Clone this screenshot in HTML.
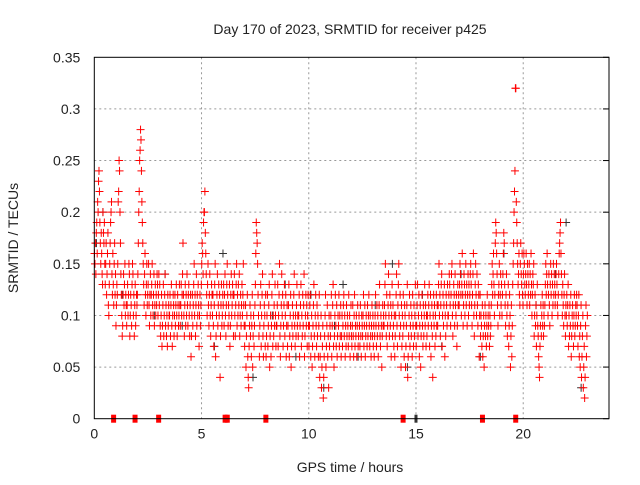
<!DOCTYPE html>
<html><head><meta charset="utf-8"><style>
body{margin:0;background:#fff}
svg text{font-family:"Liberation Sans",sans-serif;fill:#222}
</style></head><body>
<svg id="c" width="640" height="480" xmlns="http://www.w3.org/2000/svg">
<text x="350" y="34" font-size="14" text-anchor="middle">Day 170 of 2023, SRMTID for receiver p425</text>
<text x="350" y="472" font-size="14" text-anchor="middle">GPS time / hours</text>
<text transform="translate(18,238) rotate(-90)" font-size="14" text-anchor="middle">SRMTID / TECUs</text>
<g id="grid"></g><g id="marks"></g>
<rect x="94.3" y="57.3" width="514.7" height="361.4" fill="none" stroke="#000"/>
</svg>
<script>
const xTicks=[0,5,10,15,20];
const yTicks=[0,0.05,0.1,0.15,0.2,0.25,0.3,0.35];
const yTickLabels=["0","0.05","0.1","0.15","0.2","0.25","0.3","0.35"];
const blackPoints=[[0.1,0.17],[0.4,0.2],[1.3,0.12],[2.8,0.1],[3.3,0.14],[4.1,0.09],[5.6,0.07],[6.5,0.12],[7.4,0.04],[8.3,0.1],[9.4,0.06],[10.1,0.12],[10.7,0.03],[11.6,0.13],[12.3,0.06],[13.1,0.11],[13.9,0.15],[14.6,0.05],[15.3,0.12],[16.2,0.07],[17.1,0.14],[18.0,0.06],[19.1,0.16],[20.6,0.11],[21.5,0.14],[22.0,0.19],[22.7,0.03],[6.0,0.16],[8.9,0.13],[11.2,0.09]];
const binStarts=[0,0.5,1,1.5,2,2.5,3,3.5,4,4.5,5,5.5,6,6.5,7,7.5,8,8.5,9,9.5,10,10.5,11,11.5,12,12.5,13,13.5,14,14.5,15,15.5,16,16.5,17,17.5,18,18.5,19,19.5,20,20.5,21,21.5,22,22.5];
const binValues=[
[16,15,17,14,18,19,16,21,20,23,24,22,19,17,15,18,16,14,13,20,18,17,19,15],
[13,15,17,12,14,16,18,11,10,13,15,17,19,20,21,14,12,16,13,11,15,17,12,14],
[9,11,13,12,15,21,22,25,24,20,17,14,12,10,8,9,12,14,11,13,15,10,12,11],
[9,11,13,10,12,15,14,8,10,12,11,9,13,15,14,10,12,8,11,13,9,10,12,11],
[12,14,17,20,22,25,26,28,27,24,21,19,17,15,13,11,14,16,12,10,13,15,11,12],
[13,15,11,9,12,14,10,12,13,15,11,10,12,14,9,11,13,10,12,11,14,13,10,12],
[14,11,13,9,8,10,12,7,9,11,13,8,10,12,14,9,11,8,10,7,12,9,11,10],
[10,12,8,11,13,9,7,10,12,11,8,10,12,9,11,13,10,8,12,11,9,10,13,11],
[9,11,13,10,12,14,17,12,10,8,11,13,9,12,10,14,11,9,12,13,10,8,11,12],
[6,8,10,12,9,11,13,15,10,12,8,11,14,9,12,10,13,11,7,10,12,9,11,13],
[15,17,16,14,19,20,20,22,18,16,14,12,10,13,15,11,9,12,14,10,8,11,13,12],
[10,12,9,7,11,13,15,6,8,10,12,14,9,11,13,10,12,4,8,11,13,9,10,12],
[11,13,9,12,14,10,8,11,13,15,12,9,11,10,13,7,9,12,14,10,11,13,12,8],
[12,14,10,8,11,13,15,9,12,10,13,11,14,8,10,12,9,11,13,10,12,15,11,9],
[7,9,11,5,8,10,12,6,4,3,7,9,11,8,10,6,9,12,5,8,10,7,9,11],
[13,16,19,18,17,15,12,10,8,6,9,11,13,7,10,12,14,8,6,9,11,10,7,12],
[6,8,10,12,7,9,11,13,5,8,10,6,9,12,14,7,10,8,11,9,13,10,7,9],
[9,11,13,7,10,12,15,8,6,9,11,14,10,12,7,9,11,13,8,10,12,6,9,11],
[7,9,11,13,6,8,10,12,5,7,9,11,8,10,12,14,9,7,10,8,11,13,9,10],
[8,10,12,6,9,11,13,7,10,8,12,9,11,14,6,8,10,12,9,11,7,10,12,9],
[7,9,11,12,6,8,10,5,7,9,11,13,8,6,10,12,9,7,11,8,10,6,9,12],
[4,6,8,10,3,5,7,9,2,4,6,8,10,12,5,7,9,11,6,8,3,10,7,9],
[8,10,12,6,9,11,13,7,5,8,10,12,9,7,11,6,8,10,9,12,7,10,8,11],
[6,8,10,7,9,11,12,8,10,6,9,7,11,8,10,9,7,12,8,10,6,9,11,8],
[7,9,11,8,6,10,12,7,9,8,10,6,9,11,7,8,10,9,7,11,8,6,10,9],
[8,10,12,7,9,11,6,8,10,9,7,11,8,10,12,9,7,10,8,6,9,11,8,10],
[7,9,6,8,10,12,9,7,11,8,10,6,9,11,13,8,7,10,9,5,8,11,9,10],
[9,11,13,15,10,8,12,7,9,11,14,10,8,12,9,11,6,10,13,8,11,9,7,10],
[6,8,10,12,14,9,7,11,13,15,10,8,12,9,5,11,7,10,8,12,9,6,11,10],
[5,7,9,11,13,4,6,8,10,12,7,9,11,8,10,6,12,9,7,11,8,10,13,9],
[7,9,11,13,8,10,12,6,9,11,5,8,10,12,9,7,11,8,10,13,9,11,7,10],
[8,10,12,9,11,13,7,10,12,6,9,11,8,4,10,12,9,11,7,10,8,12,9,11],
[9,11,13,15,10,12,8,11,13,14,7,10,12,9,11,13,6,10,8,12,11,9,13,10],
[10,12,14,13,11,9,12,14,15,10,8,11,13,12,9,14,11,10,12,7,9,13,11,12],
[11,13,15,14,12,10,13,16,12,9,11,14,13,10,12,15,11,13,9,12,14,10,13,11],
[12,14,15,13,11,9,12,14,16,10,8,11,13,15,12,10,14,11,9,13,12,6,10,12],
[8,10,9,7,11,6,8,10,5,9,11,8,10,7,9,12,8,10,9,11,7,10,8,9],
[11,13,15,12,14,16,13,10,12,17,19,18,16,14,11,9,12,13,15,10,12,14,11,13],
[10,12,14,16,18,17,13,11,9,12,14,10,8,11,13,7,9,12,10,5,8,11,6,9],
[13,15,17,20,22,24,32,32,21,19,17,15,13,14,16,12,11,15,17,14,13,16,12,11],
[14,16,15,13,12,14,16,13,11,15,14,12,13,15,11,14,12,16,13,10,12,14,13,15],
[8,10,12,9,11,7,10,13,9,8,6,5,4,7,9,11,8,10,12,9,11,8,10,9],
[11,13,15,12,14,16,13,10,12,14,11,9,13,15,12,14,10,13,11,15,12,14,13,11],
[12,14,15,13,11,10,12,14,16,17,18,19,16,14,12,10,13,11,9,12,14,10,8,11],
[10,12,9,11,13,7,10,8,11,9,12,6,8,10,11,9,7,10,12,8,9,11,10,12],
[11,9,7,10,12,6,8,5,9,11,4,6,8,10,3,5,7,2,4,9,11,6,8,10]
];
const gapMarkers=[0.9,1.9,3.0,6.1,6.2,8.0,14.4,18.1,19.65];
const gapMarkersBlack=[15.0];

const X0=94.3,X1=609,Y0=418.7,Y1=57.3;
const xs=t=>X0+(t/24)*(X1-X0);
const ys=v=>Y0-(v/0.35)*(Y0-Y1);
const NS="http://www.w3.org/2000/svg";
const svg=document.getElementById('c'),grid=document.getElementById('grid'),marks=document.getElementById('marks');
function mk(tag,attrs,parent){const e=document.createElementNS(NS,tag);for(const k in attrs)e.setAttribute(k,attrs[k]);parent.appendChild(e);return e;}
xTicks.forEach(t=>{
 const x=xs(t);
 if(t>0){const g=mk('line',{x1:x,x2:x,y1:Y1,y2:Y0,stroke:'#999','stroke-dasharray':'2,3'},grid);
 
 }
 const l=mk('text',{x:x,y:Y0+20,'font-size':14,'text-anchor':'middle'},svg);l.textContent=t;
 
 
});
yTicks.forEach((v,i)=>{
 const y=ys(v);
 if(v>0&&v<0.35){const g=mk('line',{x1:X0,x2:X1,y1:y,y2:y,stroke:'#999','stroke-dasharray':'2,3'},grid);
 
 }
 mk('line',{x1:X1-6,x2:X1,y1:y,y2:y,stroke:'#000'},grid);
 const l=mk('text',{x:X0-14,y:y+5,'font-size':14,'text-anchor':'end'},svg);l.textContent=yTickLabels[i];
 
 
});
function plus(t,v,col){
 const x=xs(t),y=ys(v);
 return mk('path',{d:`M${x-4},${y}h8M${x},${y-4}v8`,stroke:col,'stroke-width':1,fill:'none'},marks);
}
blackPoints.forEach(([t,v])=>{const p=plus(t,v,'#333');
 
 });
binStarts.forEach((s,b)=>{
 const vals=binValues[b];
 vals.forEach((v,i)=>{
  const p=plus(s+0.5*(i+0.5)/vals.length,v/100,'#f00');
  
  
 });
});
gapMarkers.forEach(t=>{const r=mk('rect',{x:xs(t)-2.5,y:Y0-4,width:5,height:8,fill:'#f00'},marks);
 
 });
gapMarkersBlack.forEach(t=>{const r=mk('rect',{x:xs(t)-1.5,y:Y0-4,width:3,height:8,fill:'#333'},marks);
 
 });
</script>
</body></html>
